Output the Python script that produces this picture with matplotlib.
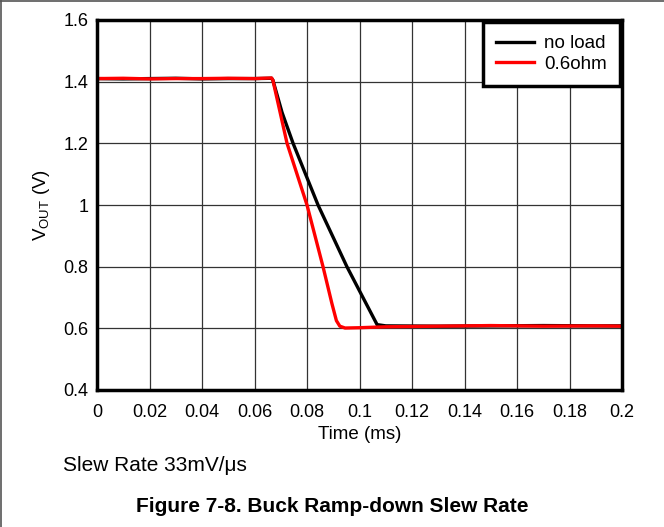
import matplotlib.pyplot as plt
from matplotlib.lines import Line2D

plt.rcParams['font.family'] = ['Liberation Sans', 'DejaVu Sans']
plt.rcParams['mathtext.fontset'] = 'custom'
plt.rcParams['mathtext.rm'] = 'Liberation Sans'

# breakpoints (time in ms, voltage in V)
t_noload = [0.0, 0.010, 0.020, 0.030, 0.040, 0.050, 0.060, 0.0665, 0.067, 0.0705,
            0.0747, 0.0842, 0.0952, 0.1067, 0.110, 0.130, 0.150, 0.170, 0.190, 0.2]
v_noload = [1.410, 1.409, 1.410, 1.411, 1.409, 1.410, 1.410, 1.411, 1.405, 1.30,
            1.20, 1.00, 0.80, 0.612, 0.608, 0.607, 0.608, 0.609, 0.608, 0.608]

t_load = [0.0, 0.010, 0.020, 0.030, 0.040, 0.050, 0.060, 0.0665, 0.067, 0.0724,
          0.080, 0.0861, 0.0895, 0.0912, 0.0925, 0.0945, 0.100, 0.110, 0.130,
          0.150, 0.170, 0.190, 0.2]
v_load = [1.410, 1.411, 1.409, 1.410, 1.410, 1.411, 1.410, 1.412, 1.405, 1.20,
          1.00, 0.80, 0.68, 0.625, 0.607, 0.601, 0.602, 0.605, 0.607,
          0.609, 0.607, 0.608, 0.607]

x_ticks = [0, 0.02, 0.04, 0.06, 0.08, 0.1, 0.12, 0.14, 0.16, 0.18, 0.2]
x_tick_labels = ['0', '0.02', '0.04', '0.06', '0.08', '0.1', '0.12', '0.14', '0.16', '0.18', '0.2']
y_ticks = [0.4, 0.6, 0.8, 1.0, 1.2, 1.4, 1.6]
y_tick_labels = ['0.4', '0.6', '0.8', '1', '1.2', '1.4', '1.6']

fig = plt.figure(figsize=(6.64, 5.27), dpi=100)
ax = fig.add_axes([97 / 664, 1 - 390 / 527, 525 / 664, 370 / 527])

ax.plot(t_noload, v_noload, color='black', linewidth=2.4, label='no load')
ax.plot(t_load, v_load, color='#ff0000', linewidth=2.4, label='0.6ohm')

ax.set_xlim(0, 0.2)
ax.set_ylim(0.4, 1.6)
ax.set_xticks(x_ticks)
ax.set_xticklabels(x_tick_labels)
ax.set_yticks(y_ticks)
ax.set_yticklabels(y_tick_labels)
ax.tick_params(length=0, labelsize=13)
ax.tick_params(axis='x', pad=10)
ax.tick_params(axis='y', pad=6)
ax.grid(True, color='#333333', linewidth=0.9)
ax.set_axisbelow(True)
for s in ax.spines.values():
    s.set_linewidth(2.5)

ax.set_xlabel('Time (ms)', fontsize=13.5, labelpad=4)
ax.set_ylabel(r'V$_{\mathrm{OUT}}$ (V)', fontsize=13.5, labelpad=8)

leg = ax.legend(loc='upper right', fontsize=13.5, fancybox=False, framealpha=1,
                edgecolor='black', borderaxespad=0.1, handlelength=2.0,
                handletextpad=0.55, borderpad=0.7, labelspacing=0.2)
leg.get_frame().set_linewidth(2.5)

fig.text(63 / 664, 1 - 471 / 527, 'Slew Rate 33mV/\u03bcs', fontsize=15, va='baseline', ha='left')
fig.text(332.5 / 664, 1 - 512 / 527, 'Figure 7-8. Buck Ramp-down Slew Rate', fontsize=15,
         fontweight='bold', va='baseline', ha='center')

# page border on left and top
fig.add_artist(Line2D([0.002, 0.002], [0, 0.998], color='#555555', linewidth=1.2))
fig.add_artist(Line2D([0, 1], [0.998, 0.998], color='#555555', linewidth=1.2))

fig.savefig('out.png', dpi=100)
